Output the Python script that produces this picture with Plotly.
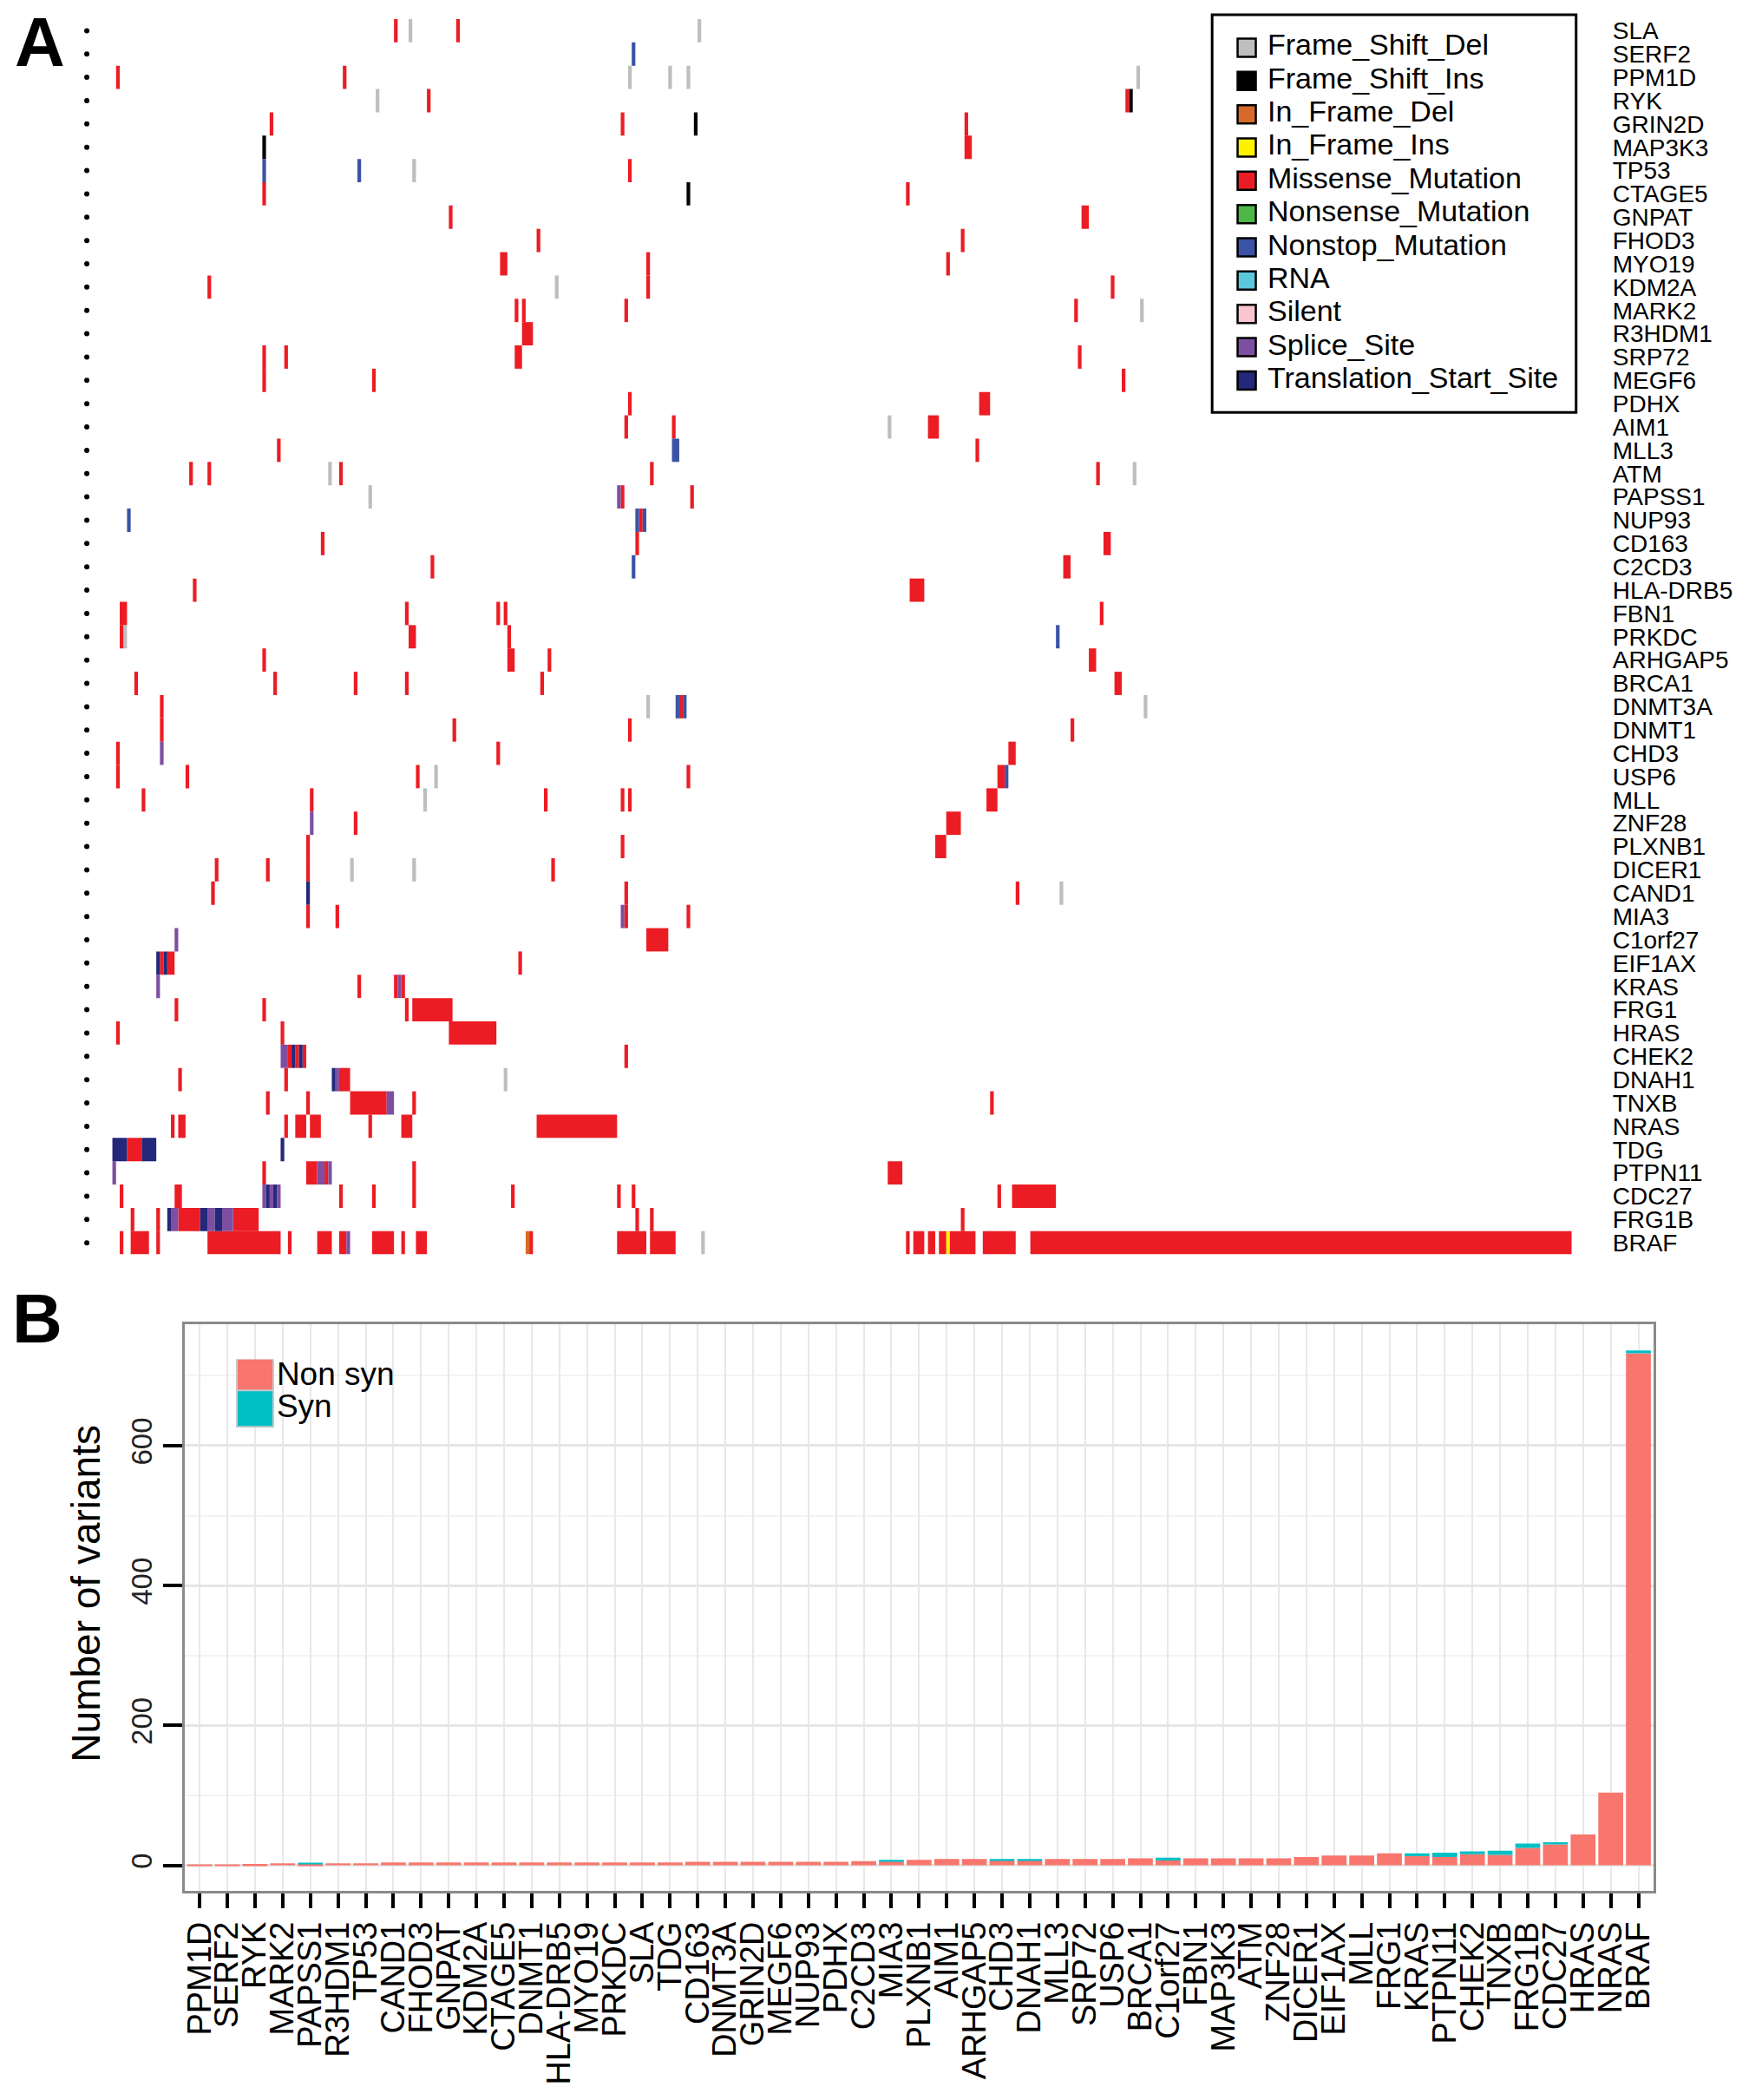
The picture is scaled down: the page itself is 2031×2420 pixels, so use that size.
import plotly.graph_objects as go

W, H = 2031, 2420
FONT = "Liberation Sans, Arial, sans-serif"

# ---- panel A : genes (top to bottom) and mutation segments (gene, first sample, n samples)
genes_a = ["SLA", "SERF2", "PPM1D", "RYK", "GRIN2D", "MAP3K3", "TP53", "CTAGE5", "GNPAT",
           "FHOD3", "MYO19", "KDM2A", "MARK2", "R3HDM1", "SRP72", "MEGF6", "PDHX", "AIM1",
           "MLL3", "ATM", "PAPSS1", "NUP93", "CD163", "C2CD3", "HLA-DRB5", "FBN1", "PRKDC",
           "ARHGAP5", "BRCA1", "DNMT3A", "DNMT1", "CHD3", "USP6", "MLL", "ZNF28", "PLXNB1",
           "DICER1", "CAND1", "MIA3", "C1orf27", "EIF1AX", "KRAS", "FRG1", "HRAS", "CHEK2",
           "DNAH1", "TNXB", "NRAS", "TDG", "PTPN11", "CDC27", "FRG1B", "BRAF"]

mut_types = ["Frame_Shift_Del", "Frame_Shift_Ins", "In_Frame_Del", "In_Frame_Ins",
             "Missense_Mutation", "Nonsense_Mutation", "Nonstop_Mutation", "RNA", "Silent",
             "Splice_Site", "Translation_Start_Site"]
mut_colors = ["#BEBEBE", "#000000", "#D9692A", "#FFF200", "#EC1C24", "#4DB848",
              "#3A53A4", "#5BC8DC", "#F9C6D0", "#7E4FA0", "#23287A"]

frame_shift_del = [
    ("SLA", 81, 1), ("SLA", 160, 1), ("PPM1D", 141, 1), ("PPM1D", 152, 1), ("PPM1D", 157, 1),
    ("PPM1D", 280, 1), ("RYK", 72, 1), ("TP53", 82, 1), ("KDM2A", 121, 1), ("MARK2", 281, 1),
    ("AIM1", 212, 1), ("ATM", 59, 1), ("ATM", 279, 1), ("PAPSS1", 70, 1), ("PRKDC", 3, 1),
    ("DNMT3A", 146, 1), ("DNMT3A", 282, 1), ("USP6", 88, 1), ("MLL", 85, 1), ("DICER1", 65, 1),
    ("DICER1", 82, 1), ("CAND1", 259, 1), ("DNAH1", 107, 1), ("BRAF", 161, 1),
]
frame_shift_ins = [("RYK", 278, 1), ("GRIN2D", 159, 1), ("MAP3K3", 41, 1), ("CTAGE5", 157, 1)]
in_frame_del = [("BRAF", 113, 1)]
in_frame_ins = [("BRAF", 228, 1)]
missense = [
    ("SLA", 77, 1), ("SLA", 94, 1), ("PPM1D", 1, 1), ("PPM1D", 63, 1), ("RYK", 86, 1), ("RYK", 277, 1),
    ("GRIN2D", 43, 1), ("GRIN2D", 139, 1), ("GRIN2D", 233, 1), ("MAP3K3", 233, 2), ("TP53", 141, 1),
    ("CTAGE5", 41, 1), ("CTAGE5", 217, 1), ("GNPAT", 92, 1), ("GNPAT", 265, 2), ("FHOD3", 116, 1),
    ("FHOD3", 232, 1), ("MYO19", 106, 2), ("MYO19", 146, 1), ("MYO19", 228, 1), ("KDM2A", 26, 1),
    ("KDM2A", 146, 1), ("KDM2A", 273, 1), ("MARK2", 110, 1), ("MARK2", 112, 1), ("MARK2", 140, 1),
    ("MARK2", 263, 1), ("R3HDM1", 112, 3), ("SRP72", 41, 1), ("SRP72", 47, 1), ("SRP72", 110, 2),
    ("SRP72", 264, 1), ("MEGF6", 41, 1), ("MEGF6", 71, 1), ("MEGF6", 276, 1), ("PDHX", 141, 1),
    ("PDHX", 237, 3), ("AIM1", 140, 1), ("AIM1", 153, 1), ("AIM1", 223, 3), ("MLL3", 45, 1),
    ("MLL3", 236, 1), ("ATM", 21, 1), ("ATM", 26, 1), ("ATM", 62, 1), ("ATM", 147, 1), ("ATM", 269, 1),
    ("PAPSS1", 139, 1), ("PAPSS1", 158, 1), ("NUP93", 144, 1), ("CD163", 57, 1), ("CD163", 143, 1),
    ("CD163", 271, 2), ("C2CD3", 87, 1), ("C2CD3", 260, 2), ("HLA-DRB5", 22, 1), ("HLA-DRB5", 218, 4),
    ("FBN1", 2, 2), ("FBN1", 80, 1), ("FBN1", 105, 1), ("FBN1", 107, 1), ("FBN1", 270, 1),
    ("PRKDC", 2, 1), ("PRKDC", 81, 2), ("PRKDC", 108, 1), ("ARHGAP5", 41, 1), ("ARHGAP5", 108, 2),
    ("ARHGAP5", 119, 1), ("ARHGAP5", 267, 2), ("BRCA1", 6, 1), ("BRCA1", 44, 1), ("BRCA1", 66, 1),
    ("BRCA1", 80, 1), ("BRCA1", 117, 1), ("BRCA1", 274, 2), ("DNMT3A", 13, 1), ("DNMT3A", 155, 1),
    ("DNMT1", 13, 1), ("DNMT1", 93, 1), ("DNMT1", 141, 1), ("DNMT1", 262, 1), ("CHD3", 1, 1),
    ("CHD3", 105, 1), ("CHD3", 245, 2), ("USP6", 1, 1), ("USP6", 20, 1), ("USP6", 83, 1),
    ("USP6", 157, 1), ("USP6", 242, 2), ("MLL", 8, 1), ("MLL", 54, 1), ("MLL", 118, 1), ("MLL", 139, 1),
    ("MLL", 141, 1), ("MLL", 239, 3), ("ZNF28", 66, 1), ("ZNF28", 228, 4), ("PLXNB1", 53, 1),
    ("PLXNB1", 139, 1), ("PLXNB1", 225, 3), ("DICER1", 28, 1), ("DICER1", 42, 1), ("DICER1", 53, 1),
    ("DICER1", 120, 1), ("CAND1", 27, 1), ("CAND1", 140, 1), ("CAND1", 247, 1), ("MIA3", 53, 1),
    ("MIA3", 61, 1), ("MIA3", 140, 1), ("MIA3", 157, 1), ("C1orf27", 146, 6), ("EIF1AX", 13, 1),
    ("EIF1AX", 15, 2), ("EIF1AX", 111, 1), ("KRAS", 67, 1), ("KRAS", 77, 1), ("KRAS", 79, 1),
    ("FRG1", 17, 1), ("FRG1", 41, 1), ("FRG1", 80, 1), ("FRG1", 82, 11), ("HRAS", 1, 1), ("HRAS", 46, 1),
    ("HRAS", 92, 13), ("CHEK2", 48, 1), ("CHEK2", 50, 1), ("CHEK2", 52, 1), ("CHEK2", 140, 1),
    ("DNAH1", 18, 1), ("DNAH1", 47, 1), ("DNAH1", 62, 3), ("TNXB", 42, 1), ("TNXB", 53, 1),
    ("TNXB", 65, 10), ("TNXB", 82, 1), ("TNXB", 240, 1), ("NRAS", 16, 1), ("NRAS", 18, 2),
    ("NRAS", 47, 1), ("NRAS", 50, 3), ("NRAS", 54, 3), ("NRAS", 70, 1), ("NRAS", 79, 3),
    ("NRAS", 116, 22), ("TDG", 4, 4), ("PTPN11", 41, 1), ("PTPN11", 53, 3), ("PTPN11", 58, 1),
    ("PTPN11", 82, 1), ("PTPN11", 212, 4), ("CDC27", 2, 1), ("CDC27", 17, 2), ("CDC27", 62, 1),
    ("CDC27", 71, 1), ("CDC27", 82, 1), ("CDC27", 109, 1), ("CDC27", 138, 1), ("CDC27", 142, 1),
    ("CDC27", 242, 1), ("CDC27", 246, 12), ("FRG1B", 5, 1), ("FRG1B", 12, 1), ("FRG1B", 18, 6),
    ("FRG1B", 33, 7), ("FRG1B", 143, 1), ("FRG1B", 147, 1), ("FRG1B", 232, 1), ("BRAF", 2, 1),
    ("BRAF", 5, 5), ("BRAF", 12, 1), ("BRAF", 26, 20), ("BRAF", 48, 1), ("BRAF", 56, 4), ("BRAF", 62, 2),
    ("BRAF", 71, 6), ("BRAF", 79, 1), ("BRAF", 83, 3), ("BRAF", 114, 1), ("BRAF", 138, 8),
    ("BRAF", 147, 7), ("BRAF", 217, 1), ("BRAF", 219, 3), ("BRAF", 223, 2), ("BRAF", 226, 2),
    ("BRAF", 229, 7), ("BRAF", 238, 9), ("BRAF", 251, 148),
]
nonsense = []
nonstop = [
    ("SERF2", 142, 1), ("TP53", 41, 1), ("TP53", 67, 1), ("MLL3", 153, 2), ("NUP93", 4, 1),
    ("NUP93", 143, 1), ("NUP93", 145, 1), ("C2CD3", 142, 1), ("PRKDC", 258, 1), ("DNMT3A", 154, 1),
    ("DNMT3A", 156, 1), ("USP6", 244, 1),
]
rna = []
silent = []
splice_site = [
    ("PAPSS1", 138, 1), ("CHD3", 13, 1), ("ZNF28", 54, 1), ("MIA3", 139, 1), ("C1orf27", 17, 1),
    ("KRAS", 12, 1), ("KRAS", 78, 1), ("CHEK2", 46, 2), ("DNAH1", 61, 1), ("TNXB", 75, 2),
    ("PTPN11", 0, 1), ("PTPN11", 56, 2), ("PTPN11", 59, 1), ("CDC27", 41, 1), ("CDC27", 43, 1),
    ("CDC27", 45, 1), ("FRG1B", 16, 2), ("FRG1B", 26, 2), ("FRG1B", 30, 3), ("BRAF", 64, 1),
]
translation_start = [
    ("CAND1", 53, 1), ("EIF1AX", 12, 1), ("EIF1AX", 14, 1), ("CHEK2", 49, 1), ("CHEK2", 51, 1),
    ("DNAH1", 60, 1), ("TDG", 0, 4), ("TDG", 8, 4), ("TDG", 46, 1), ("CDC27", 42, 1),
    ("CDC27", 44, 1), ("FRG1B", 15, 1), ("FRG1B", 24, 2), ("FRG1B", 28, 2),
]
segments = [frame_shift_del, frame_shift_ins, in_frame_del, in_frame_ins, missense, nonsense,
            nonstop, rna, silent, splice_site, translation_start]

# ---- panel B : variants per gene
genes_b = ["PPM1D", "SERF2", "RYK", "MARK2", "PAPSS1", "R3HDM1", "TP53", "CAND1", "FHOD3",
           "GNPAT", "KDM2A", "CTAGE5", "DNMT1", "HLA-DRB5", "MYO19", "PRKDC", "SLA", "TDG",
           "CD163", "DNMT3A", "GRIN2D", "MEGF6", "NUP93", "PDHX", "C2CD3", "MIA3", "PLXNB1",
           "AIM1", "ARHGAP5", "CHD3", "DNAH1", "MLL3", "SRP72", "USP6", "BRCA1", "C1orf27",
           "FBN1", "MAP3K3", "ATM", "ZNF28", "DICER1", "EIF1AX", "MLL", "FRG1", "KRAS",
           "PTPN11", "CHEK2", "TNXB", "FRG1B", "CDC27", "HRAS", "NRAS", "BRAF"]
nonsyn = [1, 1, 2, 3, 2, 3, 3, 4, 4, 4, 4, 4, 4, 4, 4, 4, 4, 4, 5, 5, 5, 5, 5, 5, 6, 6, 8,
          9, 9, 7, 7, 9, 9, 9, 10, 7, 10, 10, 10, 10, 12, 14, 14, 17, 13, 12, 16, 15, 25, 30,
          44, 104, 732]
syn = [0, 0, 0, 0, 1, 0, 0, 0, 0, 0, 0, 0, 0, 0, 0, 0, 0, 0, 0, 0, 0, 0, 0, 0, 0, 2, 0,
       0, 0, 2, 2, 0, 0, 0, 0, 4, 0, 0, 0, 0, 0, 0, 0, 0, 4, 6, 4, 6, 6, 3,
       0, 0, 4]
syn_labels = ["Non syn", "Syn"]
syn_colors = ["#F8766D", "#00BFC4"]


def xdom(left, right):
    return [left / W, right / W]


def ydom(top, bottom):
    return [1 - bottom / H, 1 - top / H]


fig = go.Figure()

row_of = {g: i for i, g in enumerate(genes_a)}
for name, color, segs in zip(mut_types, mut_colors, segments):
    if not segs:
        continue
    fig.add_trace(go.Bar(
        orientation="h",
        y=[row_of[g] for g, _, _ in segs],
        x=[n for _, _, n in segs],
        base=[s for _, s, _ in segs],
        width=1,
        marker=dict(color=color, line=dict(width=0)),
        name=name, xaxis="x", yaxis="y"))

# row dots on the left of panel A
fig.add_trace(go.Scatter(
    x=[-7] * len(genes_a), y=list(range(len(genes_a))), mode="markers",
    marker=dict(size=6, color="black"), xaxis="x", yaxis="y"))

# legend of panel A (own small axis)
fig.add_trace(go.Scatter(
    x=[0] * len(mut_types), y=list(range(len(mut_types))), mode="markers",
    marker=dict(symbol="square", size=21, color=mut_colors, line=dict(color="black", width=2.5)),
    xaxis="x3", yaxis="y3"))
fig.add_trace(go.Scatter(
    x=[24] * len(mut_types), y=list(range(len(mut_types))), mode="text",
    text=mut_types, textposition="middle right",
    textfont=dict(family=FONT, size=34, color="black"), xaxis="x3", yaxis="y3"))

# panel B bars
fig.add_trace(go.Bar(x=genes_b, y=nonsyn, width=0.9, marker=dict(color=syn_colors[0], line=dict(width=0)),
                     name=syn_labels[0], xaxis="x2", yaxis="y2"))
fig.add_trace(go.Bar(x=genes_b, y=syn, base=nonsyn, width=0.9,
                     marker=dict(color=syn_colors[1], line=dict(width=0)),
                     name=syn_labels[1], xaxis="x2", yaxis="y2"))

# legend of panel B
fig.add_trace(go.Scatter(
    x=[0] * len(syn_labels), y=list(range(len(syn_labels))), mode="markers",
    marker=dict(symbol="square", size=42, color=syn_colors, line=dict(color="#C8C8C8", width=2)),
    xaxis="x4", yaxis="y4"))
fig.add_trace(go.Scatter(
    x=[25] * len(syn_labels), y=list(range(len(syn_labels))), mode="text",
    text=syn_labels, textposition="middle right",
    textfont=dict(family=FONT, size=37, color="black"), xaxis="x4", yaxis="y4"))

hidden = dict(visible=False, showgrid=False, zeroline=False, fixedrange=True)

fig.update_layout(
    width=W, height=H, margin=dict(l=0, r=0, t=0, b=0),
    paper_bgcolor="white", plot_bgcolor="rgba(0,0,0,0)",
    showlegend=False, barmode="overlay",
    font=dict(family=FONT, color="black"),
    xaxis=dict(domain=xdom(82.7, 1817), range=[-10, 400], **hidden),
    yaxis=dict(domain=ydom(20, 1446), range=[len(genes_a) - 0.5, -0.5], side="right",
               tickvals=list(range(len(genes_a))), ticktext=genes_a, showgrid=False,
               zeroline=False, showline=False, ticks="", ticklabelstandoff=42,
               tickfont=dict(family=FONT, size=28, color="black")),
    xaxis3=dict(domain=xdom(1397, 1818), range=[-40, 381], anchor="y3", **hidden),
    yaxis3=dict(domain=ydom(15, 474), range=[10.96, -0.99], anchor="x3", **hidden),
    xaxis2=dict(domain=xdom(209, 1908), range=[-0.53, len(genes_b) - 0.44], anchor="y2",
                type="category", tickmode="linear", dtick=1, tick0=0,
                showgrid=True, gridcolor="#E8E8E8", gridwidth=2,
                ticks="outside", ticklen=17, tickwidth=4, tickcolor="black", tickangle=-90,
                tickfont=dict(family=FONT, size=38, color="black"),
                showline=True, mirror=True, linecolor="#8A8A8A", linewidth=3, zeroline=False),
    yaxis2=dict(domain=ydom(1527, 2181), range=[-37, 773], anchor="x2",
                tickvals=[0, 200, 400, 600], showgrid=True, gridcolor="#E6E6E6", gridwidth=2.5,
                minor=dict(dtick=100, tick0=0, showgrid=True, gridcolor="#F3F3F3", gridwidth=2),
                ticks="outside", ticklen=22, tickwidth=4, tickcolor="black", tickangle=-90,
                tickfont=dict(family=FONT, size=33, color="#222222"),
                showline=True, mirror=True, linecolor="#8A8A8A", linewidth=3, zeroline=False),
    xaxis4=dict(domain=xdom(255, 517), range=[-35, 227], anchor="y4", **hidden),
    yaxis4=dict(domain=ydom(1567, 1661), range=[2.0, -0.54], anchor="x4", **hidden),
)

# legend frames
fig.add_shape(type="rect", xref="paper", yref="paper", x0=1397 / W, x1=1818 / W,
              y0=1 - 474 / H, y1=1 - 15 / H, line=dict(color="black", width=3),
              fillcolor="white", layer="below")
fig.add_shape(type="rect", xref="x2", yref="y2", x0=0.9, x1=9.1, y0=607, y1=724,
              line=dict(width=0), fillcolor="white", layer="below")

fig.add_annotation(text="<b>A</b>", x=41 / W, y=1 - 47 / H, xref="paper", yref="paper",
                   xanchor="center", yanchor="middle", showarrow=False,
                   font=dict(family=FONT, size=80, color="black"))
fig.add_annotation(text="<b>B</b>", x=38 / W, y=1 - 1520 / H, xref="paper", yref="paper",
                   xanchor="center", yanchor="middle", showarrow=False,
                   font=dict(family=FONT, size=80, color="black"))
fig.add_annotation(text="Number of variants", textangle=-90, x=94 / W, y=1 - 1837 / H,
                   xref="paper", yref="paper", xanchor="center", yanchor="middle",
                   showarrow=False, font=dict(family=FONT, size=46, color="black"))

fig.write_html("out.html", config={"displayModeBar": False},
               post_script="document.body.style.margin='0';")
